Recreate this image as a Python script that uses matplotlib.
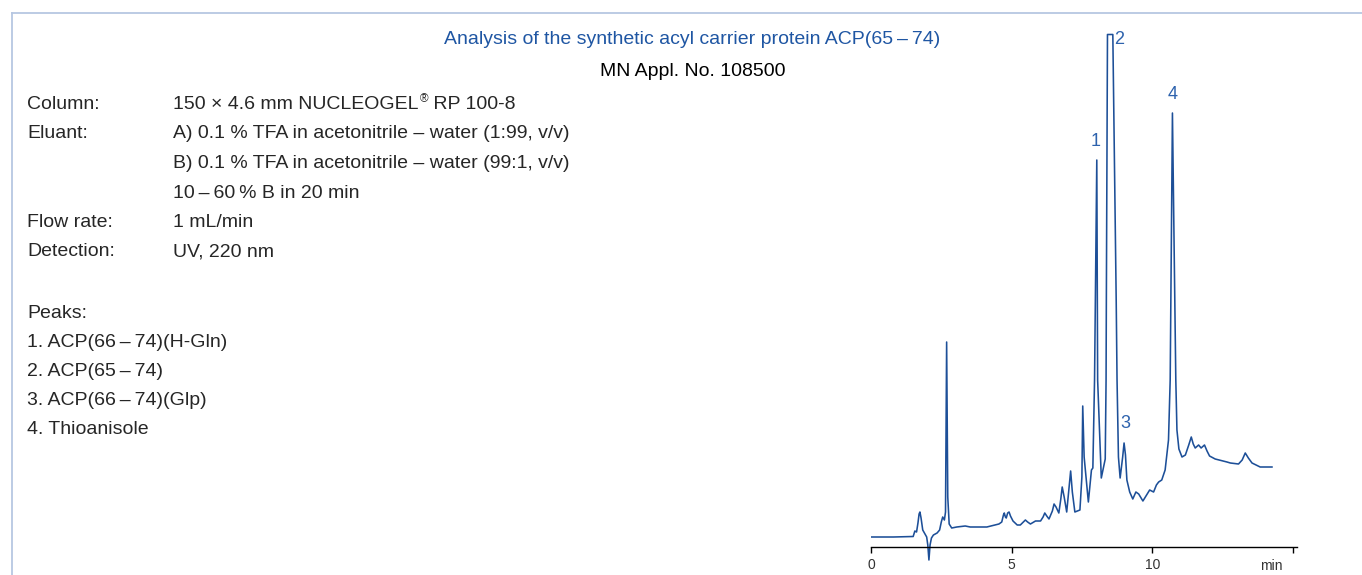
"""HPLC chromatogram: synthetic acyl carrier protein ACP(65-74)."""
import matplotlib
matplotlib.use("Agg")
import matplotlib.pyplot as plt
from matplotlib.lines import Line2D

plt.rcParams["font.family"] = ["Liberation Sans", "DejaVu Sans"]

# retention time (min) and detector signal (a.u.)
time = [0.00, 0.80, 1.50, 1.56, 1.62, 1.67, 1.71, 1.74, 1.78, 1.84, 1.92, 1.98,
        2.02, 2.06, 2.10, 2.15, 2.22, 2.35, 2.44, 2.50, 2.55, 2.61, 2.65, 2.69,
        2.73, 2.78, 2.87, 3.05, 3.35, 3.53, 4.12, 4.55, 4.65, 4.71, 4.74, 4.78,
        4.81, 4.86, 4.91, 4.96, 5.05, 5.20, 5.31, 5.42, 5.49, 5.57, 5.67, 5.85,
        6.03, 6.12, 6.18, 6.25, 6.33, 6.45, 6.51, 6.58, 6.68, 6.75, 6.80, 6.87,
        6.96, 7.05, 7.10, 7.16, 7.25, 7.43, 7.50, 7.53, 7.58, 7.73, 7.80, 7.84,
        7.89, 7.95, 8.03, 8.06, 8.19, 8.27, 8.33, 8.36, 8.37, 8.41, 8.60, 8.72,
        8.75, 8.80, 8.86, 8.95, 9.00, 9.05, 9.10, 9.20, 9.31, 9.42, 9.52, 9.67,
        9.80, 9.91, 10.05, 10.15, 10.23, 10.34, 10.46, 10.58, 10.64, 10.72,
        10.84, 10.88, 10.95, 11.06, 11.18, 11.30, 11.39, 11.46, 11.53, 11.65,
        11.74, 11.86, 11.95, 12.04, 12.24, 12.66, 12.78, 13.07, 13.20, 13.31,
        13.42, 13.55, 13.84, 14.26]
signal = [0, 0, 0.5, 6, 5, 14, 23, 25, 19, 7, 3, 0,
          -8, -23, -8, -1, 2, 4, 7, 15, 20, 17, 25, 195,
          40, 13, 9, 10, 11, 10, 10, 13, 15, 22, 24, 20,
          19, 24, 25, 21, 16, 12, 12, 15, 17, 15, 13, 16,
          16, 20, 24, 21, 18, 26, 33, 30, 24, 38, 50, 40,
          25, 52, 66, 45, 25, 27, 60, 131, 80, 35, 55, 67,
          69, 157, 377, 157, 59, 70, 78, 157, 237, 502.5, 502.5, 237,
          157, 80, 59, 80, 94, 82, 57, 45, 38, 45, 43, 36,
          42, 47, 45, 52, 55, 57, 67, 97, 157, 424,
          157, 107, 88, 80, 82, 92, 100, 93, 89, 92,
          89, 92, 86, 81, 78, 75, 74, 73, 77, 84,
          79, 74, 70, 70]

peak_ids = ["1", "2", "3", "4"]
peak_label_pos = [(7.98, 391), (8.82, 493), (9.03, 109), (10.72, 438)]

info_keys = ["Column:", "Eluant:", "", "", "Flow rate:", "Detection:"]
info_vals = ["150 \u00d7 4.6 mm NUCLEOGEL",
             "A) 0.1 % TFA in acetonitrile \u2013 water (1:99, v/v)",
             "B) 0.1 % TFA in acetonitrile \u2013 water (99:1, v/v)",
             "10\u2009\u2013\u200960\u2009% B in 20 min", "1 mL/min", "UV, 220 nm"]
peak_names = ["1. ACP(66\u2009\u2013\u200974)(H-Gln)", "2. ACP(65\u2009\u2013\u200974)",
              "3. ACP(66\u2009\u2013\u200974)(Glp)", "4. Thioanisole"]

W, H = 1362, 575
BLUE = "#1d4f98"
TXT = "#262626"
FS = 14.0


def fx(px):
    return px / W


def fy(py):
    return 1 - py / H


fig = plt.figure(figsize=(W / 100, H / 100), dpi=100)
renderer = fig.canvas.get_renderer()

# light frame on top and left
fig.add_artist(Line2D([fx(12), fx(12)], [fy(13), 0], color="#b6c7e2", lw=1.3))
fig.add_artist(Line2D([fx(12), 1], [fy(13), fy(13)], color="#b6c7e2", lw=1.3))

fig.text(fx(692.5), fy(43.5), "Analysis of the synthetic acyl carrier protein "
         "ACP(65\u2009\u2013\u200974)", color="#1f56a3", fontsize=FS,
         ha="center", va="baseline")
fig.text(fx(692.5), fy(76), "MN Appl. No. 108500", color="black", fontsize=FS,
         ha="center", va="baseline")

base = 109
step = 29.5
for i, (k, v) in enumerate(zip(info_keys, info_vals)):
    y = fy(base + i * step)
    if k:
        fig.text(fx(27), y, k, color=TXT, fontsize=FS, va="baseline")
    t = fig.text(fx(173), y, v, color=TXT, fontsize=FS, va="baseline")
    if i == 0:
        # superscript (R) and the rest of the column name
        x1 = t.get_window_extent(renderer).x1 + 1
        reg = fig.text(x1 / W, fy(base - 7), "\u00ae", color=TXT,
                       fontsize=FS * 0.6, va="baseline")
        x2 = reg.get_window_extent(renderer).x1
        fig.text(x2 / W, y, " RP 100-8", color=TXT, fontsize=FS,
                 va="baseline")

fig.text(fx(27), fy(318), "Peaks:", color=TXT, fontsize=FS, va="baseline")
for i, name in enumerate(peak_names):
    fig.text(fx(27), fy(347 + i * 29), name, color=TXT, fontsize=FS,
             va="baseline")

# chromatogram axes: 1 signal unit = 1 px, baseline 10 px above the axis
ax = fig.add_axes([fx(871), fy(567), fx(1297) - fx(871), (567 - 33) / H])
ax.plot(time, signal, color=BLUE, lw=1.15)
ax.set_xlim(0, 15.15)
ax.set_ylim(-30, 504)
ax.patch.set_visible(False)
for s in ["top", "right", "left"]:
    ax.spines[s].set_visible(False)
ax.spines["bottom"].set_position(("data", -9.7))
ax.spines["bottom"].set_linewidth(1.0)
ax.set_yticks([])
ax.set_xticks([0, 5, 10, 15])
ax.set_xticklabels(["0", "5", "10", ""])
ax.tick_params(axis="x", direction="out", length=4.5, width=1.0, pad=3.5,
               labelsize=10, labelcolor="#333333")
ax.text(14.25, -29, "min", fontsize=10, color="#333333", ha="center",
        va="center")

for lab, (px, py) in zip(peak_ids, peak_label_pos):
    ax.text(px, py, lab, color="#2d62ad", fontsize=13, ha="center",
            va="baseline")

fig.savefig("out.png", dpi=100)
